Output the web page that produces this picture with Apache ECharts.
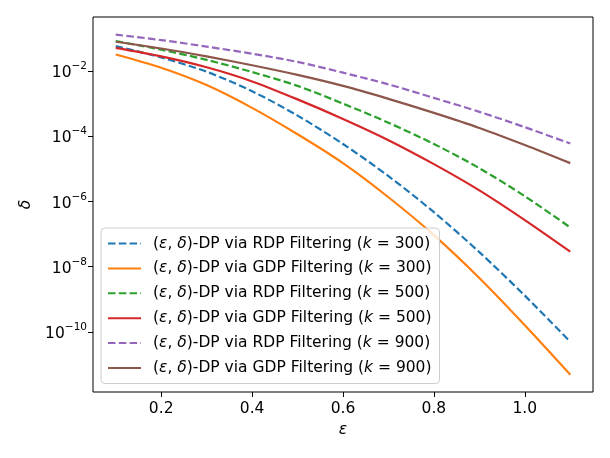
<!DOCTYPE html>
<html>
<head>
<meta charset="utf-8">
<title>delta vs epsilon</title>
<script src="https://cdn.jsdelivr.net/npm/echarts@6.0.0/dist/echarts.min.js"></script>
<style>
	html, body { margin: 0; padding: 0; background: #fff; }
	#main { width: 610px; height: 458px; }
</style>
</head>
<body>
<div id="main"></div>
<script>
// 横轴 ε
var epsList = [0.1, 0.2, 0.3, 0.4, 0.5, 0.6, 0.7, 0.8, 0.9, 1.0, 1.1];

// 各曲线 δ 值
var rdp300 = [5.8e-2, 2.6e-2, 9.5e-3, 2.4e-3, 4.3e-4, 5.8e-5, 6.0e-6, 4.7e-7, 2.8e-8, 1.3e-9, 5.0e-11];
var gdp300 = [3.2e-2, 1.26e-2, 3.7e-3, 7.4e-4, 1.15e-4, 1.5e-5, 1.35e-6, 9.3e-8, 4.5e-9, 1.6e-10, 4.9e-12];
var rdp500 = [8.3e-2, 4.5e-2, 2.2e-2, 9.3e-3, 3.5e-3, 1.0e-3, 2.6e-4, 5.8e-5, 1.05e-5, 1.45e-6, 1.6e-7];
var gdp500 = [5.1e-2, 2.8e-2, 1.3e-2, 4.8e-3, 1.35e-3, 3.4e-4, 7.6e-5, 1.4e-5, 2.2e-6, 2.7e-7, 2.9e-8];
var rdp900 = [1.3e-1, 8.9e-2, 5.6e-2, 3.4e-2, 1.9e-2, 8.9e-3, 3.9e-3, 1.5e-3, 5.6e-4, 1.9e-4, 6.0e-5];
var gdp900 = [7.9e-2, 4.9e-2, 2.8e-2, 1.5e-2, 7.6e-3, 3.5e-3, 1.4e-3, 5.2e-4, 1.8e-4, 5.4e-5, 1.5e-5];

// 刻度
var xTicks = [0.2, 0.4, 0.6, 0.8, 1.0];
var yTicks = [1e-10, 1e-8, 1e-6, 1e-4, 1e-2];

var seriesNames = [
	'(ε, δ)-DP via RDP Filtering (k = 300)',
	'(ε, δ)-DP via GDP Filtering (k = 300)',
	'(ε, δ)-DP via RDP Filtering (k = 500)',
	'(ε, δ)-DP via GDP Filtering (k = 500)',
	'(ε, δ)-DP via RDP Filtering (k = 900)',
	'(ε, δ)-DP via GDP Filtering (k = 900)'
];
var seriesData = [rdp300, gdp300, rdp500, gdp500, rdp900, gdp900];
var colors = ['#1f77b4', '#ff7f0e', '#2ca02c', '#d62728', '#9467bd', '#8c564b'];

var FONT = 'DejaVu Sans';
var FS = 15.5;

function pairUp(xs, ys){
	var out = [];
	for(var i = 0; i < xs.length; i++){
		out.push([xs[i], ys[i]]);
	}
	return out;
}

/**
 * 图表初始化
 */
function initChart(){
	var myChart = echarts.init(document.getElementById('main'));
	var series = [];
	for(var i = 0; i < seriesNames.length; i++){
		var dashed = seriesNames[i].indexOf('RDP') >= 0;
		series.push({
			name: seriesNames[i],
			type: 'line',
			data: pairUp(epsList, seriesData[i]),
			symbol: 'none',
			smooth: 0.3,
			lineStyle: {
				color: colors[i],
				width: 2.2,
				type: dashed ? [7.5, 3.3] : 'solid',
				cap: 'butt'
			}
		});
	}
	var option = {
		animation: false,
		color: colors,
		textStyle: { fontFamily: FONT },
		grid: {
			left: 93,
			right: 17,
			top: 17,
			bottom: 66,
			show: true,
			borderColor: '#000',
			borderWidth: 1,
			backgroundColor: 'transparent'
		},
		legend: {
			orient: 'vertical',
			left: 101,
			top: 228,
			itemWidth: 33,
			itemHeight: 17,
			itemGap: 7.9,
			padding: [7, 8, 7, 6],
			backgroundColor: 'rgba(255,255,255,0.8)',
			borderColor: '#cccccc',
			borderWidth: 1,
			borderRadius: 4,
			itemStyle: { opacity: 0 },
			data: seriesNames,
			formatter: function(name){
				return name.replace('ε', '{i|ε}').replace('δ', '{i|δ}').replace('(k', '({i|k}');
			},
			textStyle: {
				fontFamily: FONT,
				fontSize: FS,
				color: '#000',
				lineHeight: 17,
				padding: [0, 0, 0, 7],
				rich: {
					i: { fontFamily: FONT, fontSize: FS, fontStyle: 'italic', color: '#000', lineHeight: 17 }
				}
			}
		},
		xAxis: {
			type: 'value',
			min: 0.05,
			max: 1.15,
			name: 'ε',
			nameLocation: 'middle',
			nameGap: 28,
			nameTextStyle: { fontFamily: FONT, fontSize: FS, fontStyle: 'italic', color: '#000' },
			splitLine: { show: false },
			axisLine: { show: false },
			axisTick: {
				show: true,
				inside: false,
				length: 5,
				customValues: xTicks,
				lineStyle: { color: '#000', width: 1 }
			},
			axisLabel: {
				customValues: xTicks,
				margin: 9,
				fontFamily: FONT,
				fontSize: FS,
				color: '#000',
				formatter: function(v){ return v.toFixed(1); }
			}
		},
		yAxis: {
			type: 'log',
			logBase: 10,
			min: 1.445e-12,
			max: 0.453,
			name: 'δ',
			nameLocation: 'middle',
			nameGap: 57,
			nameRotate: 90,
			nameTextStyle: { fontFamily: FONT, fontSize: FS, fontStyle: 'italic', color: '#000' },
			splitLine: { show: false },
			minorTick: { show: false },
			axisLine: { show: false },
			axisTick: {
				show: true,
				inside: false,
				length: 5,
				customValues: yTicks,
				lineStyle: { color: '#000', width: 1 }
			},
			axisLabel: {
				customValues: yTicks,
				margin: 6,
				fontFamily: FONT,
				color: '#000',
				formatter: function(v){
					var e = Math.round(Math.log(v) / Math.LN10);
					return '{b|10}{s|' + (e < 0 ? '\u2212' + (-e) : e) + '}';
				},
				rich: {
					b: { fontFamily: FONT, fontSize: FS, color: '#000', lineHeight: 20, verticalAlign: 'bottom' },
					s: { fontFamily: FONT, fontSize: 10.5, color: '#000', lineHeight: 11, verticalAlign: 'top' }
				}
			}
		},
		series: series
	};
	// 使用刚指定的配置项和数据显示图表。
	myChart.setOption(option);
}

initChart();
</script>
</body>
</html>
